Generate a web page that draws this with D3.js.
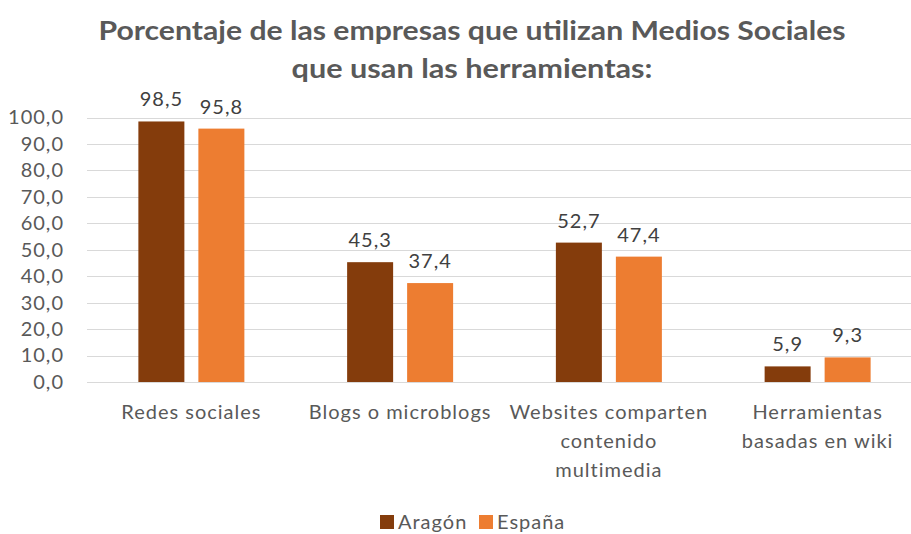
<!DOCTYPE html>
<html>
<head>
<meta charset="utf-8">
<script src="https://cdn.jsdelivr.net/npm/d3@7"></script>
<style>
  html, body { margin: 0; padding: 0; background: #fff; }
  svg { display: block; font-family: Lato, "Open Sans", sans-serif; }
</style>
</head>
<body>
<svg id="chart" width="911" height="534"></svg>
<script>
const titleLines = ["Porcentaje de las empresas que utilizan Medios Sociales", "que usan las herramientas:"];
const categories = ["Redes sociales", "Blogs o microblogs", "Websites comparten\ncontenido\nmultimedia", "Herramientas\nbasadas en wiki"];
const seriesNames = ["Aragón", "España"];
const aragon = [98.5, 45.3, 52.7, 5.9];
const espana = [95.8, 37.4, 47.4, 9.3];
const yTicks = [0, 10, 20, 30, 40, 50, 60, 70, 80, 90, 100];
const colors = ["#843C0C", "#ED7D31"];

const seriesValues = [aragon, espana];
const fmt = v => v.toFixed(1).replace(".", ",");

const svg = d3.select("#chart");
const W = 911;

const x = d3.scaleBand().domain(categories).range([87, 922]).paddingInner(0).paddingOuter(0);
const step = x.bandwidth();
const x1 = d3.scaleBand().domain(seriesNames)
  .range([step / 2 - 53, step / 2 + 53]).paddingInner(14 / 60).paddingOuter(0);
const y = d3.scaleLinear().domain([0, 100]).range([382, 117.5]);

// Title
svg.append("g").selectAll("text").data(titleLines).join("text")
  .attr("x", 472).attr("y", (d, i) => 40 + i * 38)
  .attr("text-anchor", "middle")
  .attr("font-size", 27).attr("font-weight", "bold").attr("fill", "#595959")
  .attr("textLength", (d, i) => i === 0 ? 747 : 361)
  .attr("lengthAdjust", "spacingAndGlyphs")
  .text(d => d);

// Gridlines
svg.append("g").selectAll("line").data(yTicks).join("line")
  .attr("x1", 87).attr("x2", W)
  .attr("y1", d => Math.round(y(d)) + 0.5).attr("y2", d => Math.round(y(d)) + 0.5)
  .attr("stroke", "#d9d9d9").attr("stroke-width", 1);

// Y axis labels
const yAxis = d3.axisLeft(y).tickValues(yTicks).tickFormat(fmt).tickSize(0).tickPadding(0);
const ya = svg.append("g").attr("transform", "translate(64,0)").call(yAxis);
ya.select(".domain").remove();
ya.selectAll("text").attr("font-size", 20).attr("fill", "#595959")
  .attr("font-family", "Lato, sans-serif").attr("letter-spacing", 1);

// Bars
const groups = svg.append("g").selectAll("g").data(categories).join("g")
  .attr("transform", d => `translate(${x(d)},0)`);
groups.selectAll("rect").data((d, ci) => seriesNames.map((s, si) => ({ s, si, v: seriesValues[si][ci] })))
  .join("rect")
  .attr("x", d => x1(d.s)).attr("width", x1.bandwidth())
  .attr("y", d => y(d.v)).attr("height", d => y(0) - y(d.v))
  .attr("fill", d => colors[d.si]);

// Data labels
groups.selectAll("text.val").data((d, ci) => seriesNames.map((s, si) => ({ s, si, v: seriesValues[si][ci] })))
  .join("text").attr("class", "val")
  .attr("x", d => x1(d.s) + x1.bandwidth() / 2)
  .attr("y", d => y(d.v) - 15)
  .attr("text-anchor", "middle").attr("font-size", 20).attr("fill", "#404040")
  .attr("letter-spacing", 1)
  .text(d => fmt(d.v));

// Category labels
const catG = svg.append("g").selectAll("text").data(categories).join("text")
  .attr("x", d => x(d) + step / 2)
  .attr("y", 419)
  .attr("text-anchor", "middle").attr("font-size", 20).attr("fill", "#595959")
  .attr("letter-spacing", 1);
catG.selectAll("tspan").data(d => d.split("\n")).join("tspan")
  .attr("x", function () { return d3.select(this.parentNode).attr("x"); })
  .attr("dy", (d, i) => i === 0 ? 0 : 29)
  .text(d => d);

// Legend
const legendX = [380, 479];
const lg = svg.append("g").selectAll("g").data(seriesNames).join("g")
  .attr("transform", (d, i) => `translate(${legendX[i]},515)`);
lg.append("rect").attr("width", 14).attr("height", 14).attr("fill", (d, i) => colors[i]);
lg.append("text").attr("x", 18).attr("y", 14).attr("font-size", 20).attr("fill", "#595959")
  .attr("letter-spacing", 1).text(d => d);
</script>
</body>
</html>
